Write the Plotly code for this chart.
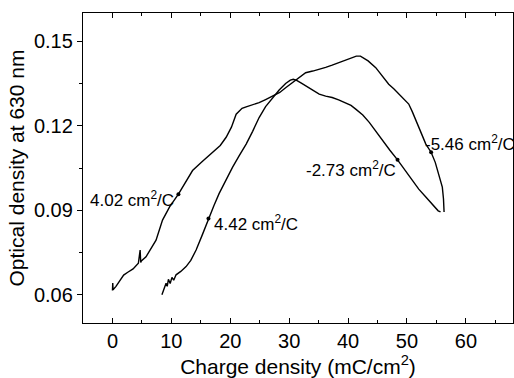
import plotly.graph_objects as go

# Scan 1 (starts at 0 mC/cm2)
scan1_x = [0.0, 0.05, 0.1, 0.6, 1.2, 1.9, 2.6, 3.5, 4.4, 4.7, 4.8, 4.9, 5.7, 6.5, 7.4, 8.5, 9.7,
           11.2, 12.3, 13.6, 15.2, 17.0, 18.3, 19.3, 20.2, 21.0, 22.0, 22.7, 23.8, 24.9, 26.0,
           27.2, 28.4, 29.4, 30.6, 31.7, 32.8, 34.0, 35.1, 36.2, 37.3, 38.4, 39.6, 40.7, 41.4,
           42.1, 43.4, 44.7, 45.8, 46.9, 47.8, 48.6, 49.5, 50.3, 50.9, 51.5, 52.3, 53.2, 54.1,
           54.8, 55.4, 56.0, 56.2, 56.3]
scan1_y = [0.0615, 0.0642, 0.0618, 0.0630, 0.0648, 0.0670, 0.0680, 0.0692, 0.0712, 0.0759, 0.0715,
           0.0720, 0.0735, 0.0762, 0.0794, 0.0865, 0.0912, 0.0957, 0.0995, 0.1041, 0.1072,
           0.1106, 0.1130, 0.1159, 0.1195, 0.1241, 0.1262, 0.1267, 0.1275, 0.1282, 0.1293,
           0.1306, 0.1318, 0.1335, 0.1353, 0.1372, 0.1388, 0.1394, 0.1400, 0.1407, 0.1415,
           0.1424, 0.1435, 0.1444, 0.1447, 0.1447, 0.1430, 0.1406, 0.1378, 0.1347, 0.1330,
           0.1312, 0.1295, 0.1277, 0.1250, 0.1218, 0.1180, 0.1135, 0.1106, 0.1070, 0.1030,
           0.0982, 0.0940, 0.0894]

# Scan 2 (starts near 8.4 mC/cm2)
scan2_x = [8.4, 8.8, 9.1, 9.3, 9.5, 9.8, 10.1, 10.4, 10.8, 11.6, 12.5, 13.3, 14.2, 15.2, 16.3,
           17.2, 18.1, 19.2, 20.4, 21.5, 22.7, 23.8, 24.9, 26.0, 27.2, 28.3, 29.4, 30.2,
           30.7, 31.2, 32.0, 32.8, 34.0, 35.1, 36.2, 37.3, 38.4, 39.6, 40.5, 41.3, 42.5,
           43.6, 44.7, 45.8, 47.1, 48.4, 49.6, 50.9, 52.0, 53.2, 54.1, 54.9, 55.3, 55.7]
scan2_y = [0.0600, 0.0625, 0.0641, 0.0630, 0.0655, 0.0640, 0.0662, 0.0652, 0.0671, 0.0683,
           0.0700, 0.0722, 0.0759, 0.0810, 0.0871, 0.0915, 0.0959, 0.1005, 0.1053, 0.1093,
           0.1135, 0.1180, 0.1229, 0.1268, 0.1300, 0.1327, 0.1350, 0.1362, 0.1365, 0.1362,
           0.1352, 0.1341, 0.1325, 0.1312, 0.1305, 0.1300, 0.1292, 0.1282, 0.1272, 0.1259,
           0.1238, 0.1212, 0.1180, 0.1147, 0.1113, 0.1079, 0.1043, 0.1006, 0.0975, 0.0947,
           0.0925, 0.0906, 0.0898, 0.0894]

# Slope labels and the points they mark
label_text = ["4.02 cm<sup>2</sup>/C", "4.42 cm<sup>2</sup>/C", "-2.73 cm<sup>2</sup>/C", "-5.46 cm<sup>2</sup>/C"]
label_x = [10.6, 17.0, 48.3, 52.9]
label_y = [0.0940, 0.0854, 0.1048, 0.1137]
label_anchor = ["right", "left", "right", "left"]
mark_x = [11.2, 16.3, 48.4, 54.1]
mark_y = [0.0957, 0.0871, 0.1079, 0.1106]

FONT = "Liberation Sans, Arial, sans-serif"

fig = go.Figure()
fig.add_trace(go.Scatter(x=scan1_x, y=scan1_y, mode="lines",
                         line=dict(color="black", width=1.4), showlegend=False))
fig.add_trace(go.Scatter(x=scan2_x, y=scan2_y, mode="lines",
                         line=dict(color="black", width=1.4), showlegend=False))
fig.add_trace(go.Scatter(x=mark_x, y=mark_y, mode="markers",
                         marker=dict(color="black", size=4), showlegend=False))

for t, x, y, a in zip(label_text, label_x, label_y, label_anchor):
    fig.add_annotation(x=x, y=y, xref="x", yref="y", text=t, showarrow=False,
                       xanchor=a, yanchor="middle", borderpad=0,
                       font=dict(family=FONT, size=17, color="black"))

fig.update_layout(
    width=514, height=378,
    margin=dict(l=83, r=1, t=13, b=55),
    paper_bgcolor="white", plot_bgcolor="white",
    font=dict(family=FONT, color="black"),
)
fig.update_xaxes(
    range=[-5, 68], tickmode="array", tickvals=[0, 10, 20, 30, 40, 50, 60],
    ticks="inside", ticklen=5, tickwidth=1, tickcolor="black",
    minor=dict(tickmode="array", tickvals=[-5, 5, 15, 25, 35, 45, 55, 65],
               ticks="inside", ticklen=3, tickcolor="black"),
    showline=True, linecolor="black", linewidth=1.3, mirror="ticks",
    showgrid=False, zeroline=False,
    tickfont=dict(family=FONT, size=20, color="black"),
    title=dict(text="Charge density (mC/cm<sup>2</sup>)", standoff=8,
               font=dict(family=FONT, size=21, color="black")),
)
fig.update_yaxes(
    range=[0.05, 0.16], tickmode="array", tickvals=[0.06, 0.09, 0.12, 0.15],
    ticktext=["0.06", "0.09", "0.12", "0.15"],
    ticks="outside", ticklen=5, tickwidth=1, tickcolor="black",
    minor=dict(tickmode="array", tickvals=[0.075, 0.105, 0.135],
               ticks="outside", ticklen=3, tickcolor="black"),
    showline=True, linecolor="black", linewidth=1.3, mirror=True,
    showgrid=False, zeroline=False,
    tickfont=dict(family=FONT, size=20, color="black"),
    title=dict(text="Optical density at 630 nm", standoff=3,
               font=dict(family=FONT, size=21, color="black")),
)

fig.write_html("out.html")
